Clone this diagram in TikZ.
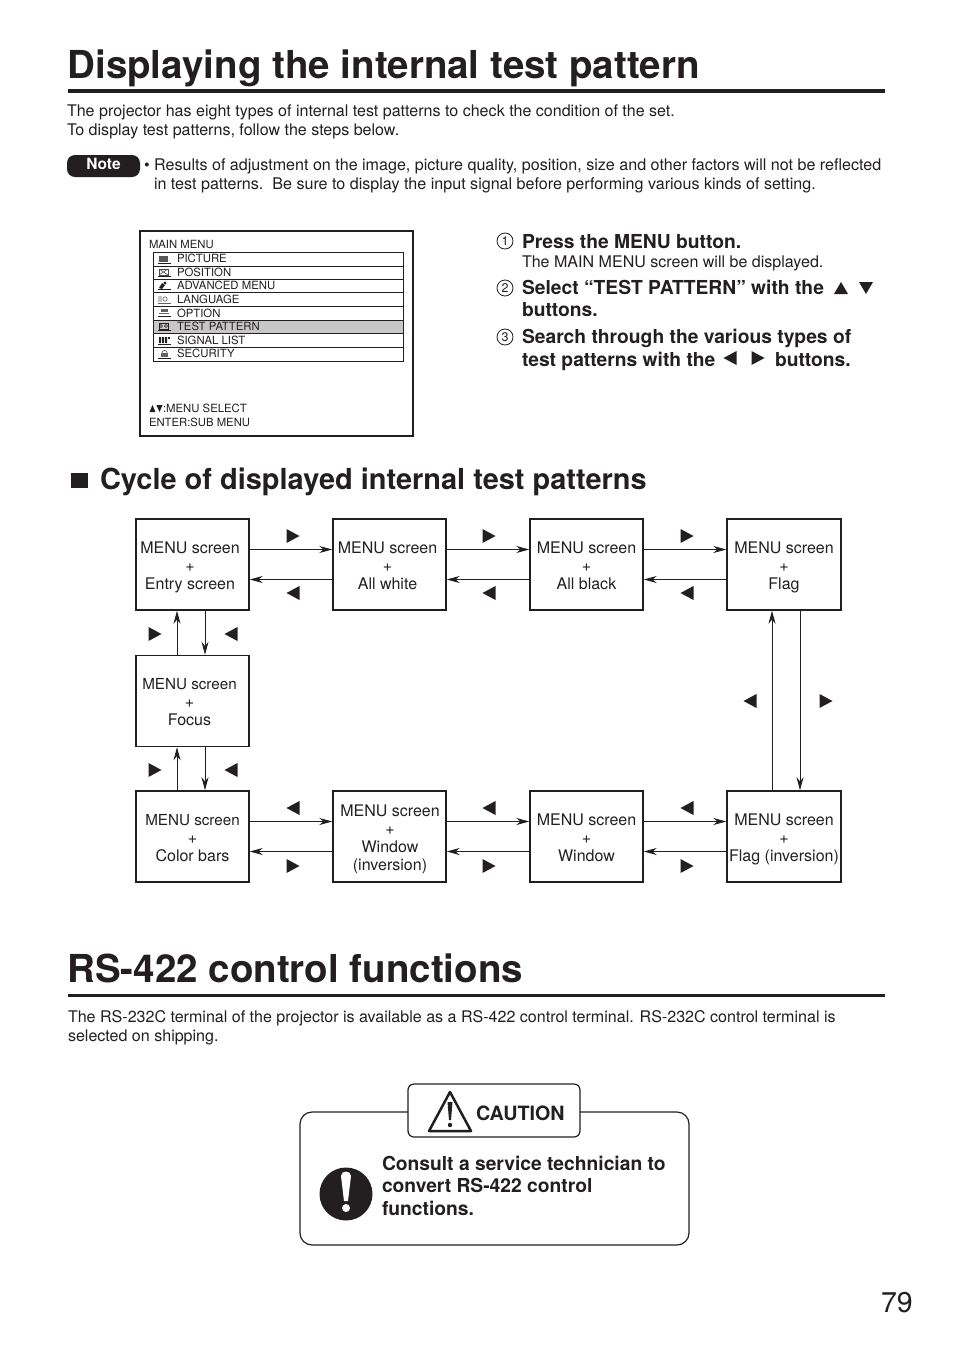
\documentclass[tikz,border=0pt]{standalone}
\usepackage{fontspec}
\setmainfont{TeX Gyre Heros}
\usetikzlibrary{arrows.meta}
\definecolor{ink}{HTML}{231F20}
\newcommand{\fs}[1]{\fontsize{#1}{#1}\selectfont}
\newcommand{\Tx}[5]{\node[txt,font=\fs{#4}] (#1) at (#2,#3) {#5};}
\newcommand{\Bx}[5]{\node[txt,font=\bfseries\fs{#4}] (#1) at (#2,#3) {#5};}
\newcommand{\RT}[2]{\fill[ink] (#1-6.5,#2-7) -- (#1+6.5,#2) -- (#1-6.5,#2+7) -- cycle;}
\newcommand{\LT}[2]{\fill[ink] (#1+6.5,#2-7) -- (#1-6.5,#2) -- (#1+6.5,#2+7) -- cycle;}
\newcommand{\BOX}[6]{\node[flowbox] (#1) at (#2,#3) {\raisebox{#5pt}[0pt][0pt]{\kern#4pt\begin{tabular}{@{}c@{}}#6\end{tabular}\kern-#4pt}};}
\newcommand{\Num}[4]{\node[numc] (#1) at (#2,#3) {#4};}
\tikzset{
 x=1pt,y=-1pt,
 txt/.style={inner sep=0pt,outer sep=0pt,anchor=base west,text=ink},
 flowbox/.style={draw=ink,line width=1.5pt,minimum width=113pt,minimum height=91pt,inner sep=0pt,font=\fontsize{16}{18}\selectfont,text=ink},
 flow/.style={draw=ink,line width=0.8pt,-{Stealth[length=13pt,width=7pt]}},
 numc/.style={draw=ink,circle,line width=0.8pt,minimum size=16pt,inner sep=0pt,font=\fs{12.5},text=ink},
}
\begin{document}
\begin{tikzpicture}
\useasboundingbox[fill=white] (0,0) rectangle (954,1349);
% title 1
\Bx{t1}{67.5}{78}{38.5}{Displaying the internal test pattern}
\fill[ink] (68,88.5) rectangle (885,92.5);
\Tx{p1}{67}{116.5}{16.05}{The projector has eight types of internal test patterns to check the condition of the set.}
\Tx{p2}{67}{135}{16.05}{To display test patterns, follow the steps below.}
\node[fill=ink,rounded corners=8pt,minimum width=73pt,minimum height=22pt,inner sep=0pt,text=white,font=\bfseries\fs{15.5}] (note) at (103.5,166) {\raisebox{-3.5pt}[0pt][0pt]{Note}};
\Tx{n1}{144}{170.5}{16.09}{• Results of adjustment on the image, picture quality, position, size and other factors will not be reflected}
\Tx{n2}{154}{189}{16.09}{in test patterns.\ \ Be sure to display the input signal before performing various kinds of setting.}
% menu
\draw[ink,line width=2pt] (140,231) rectangle (413,436);
\fill[black!22] (153,320) rectangle (403,333);
\draw[ink,line width=1pt] (153,252) rectangle (403,361);
\foreach \yy in {266,279,292,306,320,333,347} \draw[ink,line width=1pt] (153,\yy) -- (403,\yy);
\Tx{mm}{149}{248}{11.3}{MAIN MENU}
\Tx{m1}{177}{262}{11.35}{PICTURE}
\Tx{m2}{177}{276}{11.35}{POSITION}
\Tx{m3}{177}{289}{11.35}{ADVANCED MENU}
\Tx{m4}{177}{303}{11.35}{LANGUAGE}
\Tx{m5}{177}{317}{11.35}{OPTION}
\Tx{m6}{177}{330}{11.35}{TEST PATTERN}
\Tx{m7}{177}{344}{11.35}{SIGNAL LIST}
\Tx{m8}{177}{357}{11.35}{SECURITY}
% icons
\fill[ink!75] (159,256) rectangle (168,262); \draw[ink] (158,263) -- (171,263);
\draw[ink!80,line width=.7pt] (159,269) rectangle (168,275); \draw[ink!80,line width=.6pt] (159,269) -- (168,275) (159,275) -- (168,269); \draw[ink] (158,276) -- (171,276);
\fill[ink] (159,288) -- (162,283) -- (165,285) -- (162,289) -- cycle; \fill[ink] (165,283) circle (1.6pt); \draw[ink] (158,289) -- (171,289);
\draw[ink!70,line width=.6pt] (159,296) -- (159,302) (161,296) -- (161,302) (165,299) circle (2.2pt); \draw[ink!70] (158,303) -- (171,303);
\fill[ink!70] (161,309) rectangle (168,312); \draw[ink!70,line width=.8pt] (159,313.5) -- (169,313.5); \draw[ink] (158,316) -- (171,316);
\draw[ink,line width=.7pt] (159,323) rectangle (168,329); \draw[ink,line width=.6pt] (161,326) circle (1.5pt) (166,326) circle (1.5pt); \draw[ink] (158,330) -- (171,330);
\fill[ink] (159,337) rectangle (161,343) (162,337) rectangle (164,343) (165,337) rectangle (167,343); \fill[ink] (168,337) rectangle (170,339); \draw[ink] (158,344) -- (171,344);
\draw[ink!80,line width=.6pt] (162,353) arc[start angle=180,end angle=0,radius=2.6pt]; \fill[ink!70] (161,353) rectangle (168,357); \draw[ink] (158,358) -- (171,358);
\fill[ink] (149.5,412) -- (152.5,405) -- (155.5,412) -- cycle;
\fill[ink] (156.5,405) -- (159.5,412) -- (162.5,405) -- cycle;
\Tx{s1}{163}{412}{11.35}{:MENU SELECT}
\Tx{s2}{149}{426}{11.3}{ENTER:SUB MENU}
% steps
\Num{c1}{505}{241}{1}
\Bx{st1}{522}{248}{19.25}{Press the MENU button.}
\Tx{st1b}{522}{267}{16.05}{The MAIN MENU screen will be displayed.}
\Num{c2}{505}{288}{2}
\Bx{st2}{522}{294}{19.25}{Select “TEST PATTERN” with the}
\fill[ink] (834,294) -- (841,282) -- (848,294) -- cycle;
\fill[ink] (859,282) -- (866,294) -- (873,282) -- cycle;
\Bx{st2b}{522}{316}{19.25}{buttons.}
\Num{c3}{505}{337}{3}
\Bx{st3}{522}{343}{19.25}{Search through the various types of}
\Bx{st3b}{522}{366}{19.25}{test patterns with the}
\LT{730}{358}
\RT{758}{358}
\Bx{st3c}{775}{366}{19.25}{buttons.}
% heading 2
\fill[ink] (71,473) rectangle (88,488);
\Bx{h2}{100}{489.5}{28.95}{Cycle of displayed internal test patterns}
% flow
\BOX{a1}{192.5}{564.5}{-2.5}{-8}{MENU screen\\+\\Entry screen}
\BOX{a2}{389.5}{564.5}{-2}{-8}{MENU screen\\+\\All white}
\BOX{a3}{586.5}{564.5}{0}{-8}{MENU screen\\+\\All black}
\BOX{b1}{192.5}{701}{-3}{-7.5}{\fontsize{15.2}{18}\selectfont MENU screen\\+\\Focus}
\BOX{c4}{192.5}{836.5}{0}{-8}{\fontsize{15.2}{18}\selectfont MENU screen\\+\\Color bars}
\BOX{cb}{389.5}{836.5}{0.5}{-7.5}{MENU screen\\+\\Window\\(inversion)}
\BOX{cw}{586.5}{836.5}{0}{-8}{MENU screen\\+\\Window}
\begin{scope}[flowbox/.append style={minimum width=114pt}]
\BOX{a4}{784}{564.5}{0}{-8}{MENU screen\\+\\Flag}
\BOX{cf}{784}{836.5}{0}{-8}{MENU screen\\+\\Flag (inversion)}
\end{scope}
\foreach \p/\q in {a1/a2,a2/a3,a3/a4,c4/cb,cb/cw,cw/cf}{
 \draw[flow] ([yshift=15pt]\p.east) -- ([yshift=15pt]\q.west);
 \draw[flow] ([yshift=-15pt]\q.west) -- ([yshift=-15pt]\p.east);
}
\draw[flow] ([xshift=-15.5pt]b1.north) -- ([xshift=-15.5pt]a1.south);
\draw[flow] ([xshift=12.5pt]a1.south) -- ([xshift=12.5pt]b1.north);
\draw[flow] ([xshift=-15.5pt]c4.north) -- ([xshift=-15.5pt]b1.south);
\draw[flow] ([xshift=12.5pt]b1.south) -- ([xshift=12.5pt]c4.north);
\draw[flow] ([xshift=-12pt]cf.north) -- ([xshift=-12pt]a4.south);
\draw[flow] ([xshift=16pt]a4.south) -- ([xshift=16pt]cf.north);
\foreach \xx in {293,489,687}{ \RT{\xx}{536} \LT{\xx}{593} \LT{\xx}{808} \RT{\xx}{866} }
\RT{155}{634} \LT{231}{634} \RT{155}{770} \LT{231}{770}
\LT{750}{701} \RT{826}{701}
% title 2
\Bx{t2}{67.5}{982.5}{38.5}{RS-422 control functions}
\fill[ink] (68,993.5) rectangle (885,997);
\Tx{q1}{68}{1022}{16.05}{The RS-232C terminal of the projector is available as a RS-422 control terminal. RS-232C control terminal is}
\Tx{q2}{68}{1041}{16.05}{selected on shipping.}
% caution
\draw[ink,line width=1.2pt,rounded corners=12pt] (300,1112) rectangle (689,1245);
\node[draw=ink,fill=white,line width=1.2pt,rounded corners=6pt,minimum width=172pt,minimum height=53pt,inner sep=0pt] (tab) at (494,1110.5) {};
\draw[ink,line width=2.5pt,line join=round] (450,1092) -- (471,1131) -- (429,1131) -- cycle;
\fill[ink] (447.5,1102) -- (452.5,1102) -- (451,1120) -- (449,1120) -- cycle;
\fill[ink] (450,1125) circle (2.2pt);
\Bx{ca}{476}{1120.5}{19.7}{CAUTION}
\fill[ink] (346,1194) circle (26.5pt);
\fill[white] (341,1176) .. controls (341,1170) and (351,1170) .. (351,1176) -- (348,1201) -- (344,1201) -- cycle;
\fill[white] (346,1208) circle (4pt);
\Bx{w1}{382}{1170}{19.25}{Consult a service technician to}
\Bx{w2}{382}{1192}{19.25}{convert RS-422 control}
\Bx{w3}{382}{1215}{19.25}{functions.}
\Tx{pg}{881}{1312}{28.5}{79}
\end{tikzpicture}
\end{document}
